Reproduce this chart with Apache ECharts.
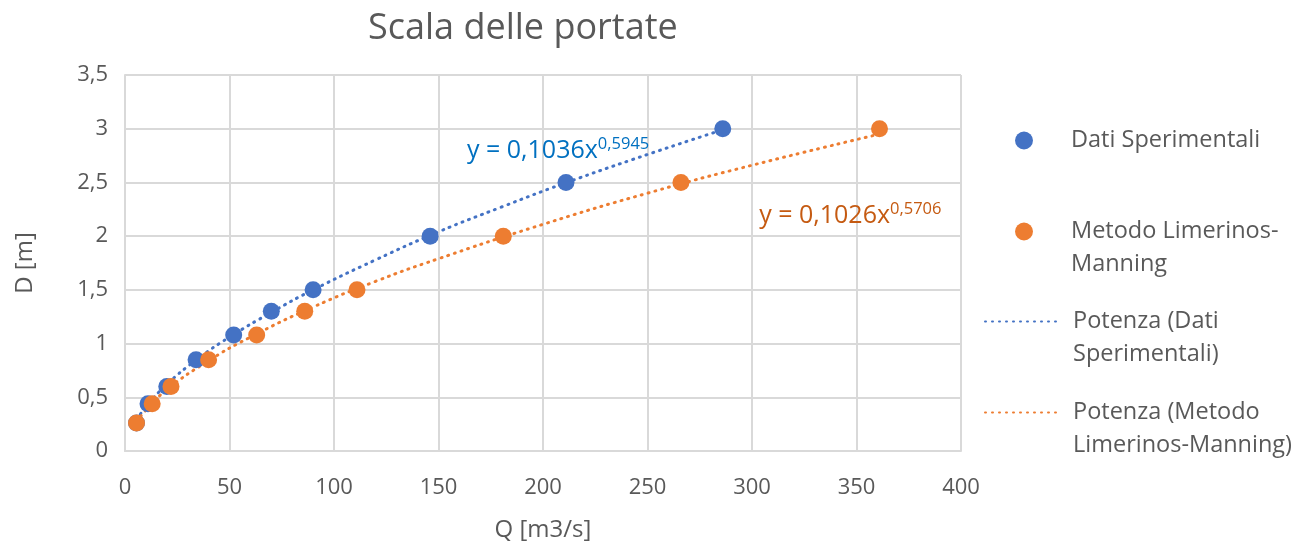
<!DOCTYPE html>
<html>
<head>
<meta charset="utf-8">
<script src="https://cdn.jsdelivr.net/npm/echarts@6/dist/echarts.min.js"></script>
<style>html,body{margin:0;padding:0;background:#fff}#c{width:1305px;height:546px}</style>
</head>
<body>
<div id="c"></div>
<script>
// Data
const xTicks = [0, 50, 100, 150, 200, 250, 300, 350, 400];
const yTicks = ['0', '0,5', '1', '1,5', '2', '2,5', '3', '3,5'];

const datiQ = [5.5, 11, 20, 34, 52, 70, 90, 146, 211, 286];
const datiD = [0.26, 0.44, 0.6, 0.85, 1.08, 1.3, 1.5, 2.0, 2.5, 3.0];

const manningQ = [5.5, 13, 22, 40, 63, 86, 111, 181, 266, 361];
const manningD = [0.26, 0.44, 0.6, 0.85, 1.08, 1.3, 1.5, 2.0, 2.5, 3.0];

// dotted trend curves
const trendDatiQ = [5.5, 10, 20, 35, 50, 70, 90, 120, 150, 180, 210, 250, 286];
const trendDatiD = [0.29, 0.41, 0.62, 0.86, 1.06, 1.29, 1.5, 1.78, 2.04, 2.27, 2.49, 2.76, 2.99];

const trendManQ = [5.5, 10, 20, 40, 60, 90, 120, 150, 200, 250, 300, 361];
const trendManD = [0.27, 0.38, 0.57, 0.84, 1.06, 1.34, 1.58, 1.79, 2.11, 2.40, 2.66, 2.95];

const names = ['Dati Sperimentali', 'Metodo Limerinos-Manning',
  'Potenza (Dati Sperimentali)', 'Potenza (Metodo Limerinos-Manning)'];
const legendLabels = ['Dati Sperimentali', '\nMetodo Limerinos-\nManning',
  '\nPotenza (Dati\nSperimentali)', '\nPotenza (Metodo\nLimerinos-Manning)'];

const eqDati = ['y = 0,1036x', '0,5945'];
const eqMan = ['y = 0,1026x', '0,5706'];

const BLUE = '#4472C4', ORANGE = '#ED7D31';
const FONT = 'Open Sans';
const zip = (a, b) => a.map((v, i) => [v, b[i]]);

function legendAt(idx, left, top, isLine) {
  return {
    data: [names[idx]], orient: 'vertical', left: left, top: top, padding: 0,
    itemWidth: isLine ? 75 : 18, itemHeight: isLine ? 16 : 18, selectedMode: false,
    itemStyle: isLine ? { opacity: 0 } : {},
    formatter: () => legendLabels[idx],
    textStyle: { fontFamily: FONT, fontSize: 23.5, color: '#595959', lineHeight: 33,
      padding: [0, 0, 0, isLine ? 8 : 33] }
  };
}

function eqLabel(eq, color) {
  return {
    show: true, position: 'right', distance: 0,
    formatter: '{a|' + eq[0] + '}{b|' + eq[1] + '}',
    rich: {
      a: { fontFamily: FONT, fontSize: 25, color: color, lineHeight: 30 },
      b: { fontFamily: FONT, fontSize: 16.5, color: color, verticalAlign: 'top', lineHeight: 18 }
    }
  };
}

const chart = echarts.init(document.getElementById('c'), null, { renderer: 'canvas' });
chart.setOption({
  backgroundColor: '#ffffff',
  animation: false,
  title: {
    text: 'Scala delle portate', left: 363, top: 6,
    textStyle: { fontFamily: FONT, fontSize: 36, fontWeight: 'normal', color: '#595959' }
  },
  grid: { left: 125, right: 344, top: 75, bottom: 95, containLabel: false, outerBoundsMode: 'none' },
  legend: [legendAt(0, 1015, 124, false), legendAt(1, 1015, 182, false),
           legendAt(2, 984, 272, true), legendAt(3, 984, 363, true)],
  xAxis: {
    type: 'value', min: 0, max: 400, interval: 50,
    name: 'Q [m3/s]', nameLocation: 'middle', nameGap: 67,
    nameTextStyle: { fontFamily: FONT, fontSize: 24, color: '#595959' },
    axisLine: { show: true, lineStyle: { color: '#d9d9d9', width: 2 } },
    axisTick: { show: false },
    axisLabel: { margin: 26, fontFamily: FONT, fontSize: 22, color: '#595959',
      formatter: v => String(xTicks[xTicks.indexOf(v)]) },
    splitLine: { show: true, lineStyle: { color: '#d9d9d9', width: 2 } }
  },
  yAxis: {
    type: 'value', min: 0, max: 3.5, interval: 0.5,
    name: 'D [m]', nameLocation: 'middle', nameGap: 88,
    nameTextStyle: { fontFamily: FONT, fontSize: 24, color: '#595959' },
    axisLine: { show: true, lineStyle: { color: '#d9d9d9', width: 2 } },
    axisTick: { show: false },
    axisLabel: { margin: 17, fontFamily: FONT, fontSize: 22, color: '#595959',
      formatter: v => yTicks[Math.round(v / 0.5)] },
    splitLine: { show: true, lineStyle: { color: '#d9d9d9', width: 2 } }
  },
  series: [
    {
      name: names[2], type: 'line', data: zip(trendDatiQ, trendDatiD), smooth: true,
      symbol: 'none', z: 3,
      itemStyle: { color: BLUE },
      lineStyle: { color: BLUE, width: 3, type: [1, 6], cap: 'round' },
      markPoint: {
        symbol: 'circle', symbolSize: 1, itemStyle: { color: 'rgba(0,0,0,0)' },
        data: [{ coord: [163.4, 2.79], label: eqLabel(eqDati, '#0070C0') }]
      }
    },
    {
      name: names[3], type: 'line', data: zip(trendManQ, trendManD), smooth: true,
      symbol: 'none', z: 3,
      itemStyle: { color: ORANGE },
      lineStyle: { color: ORANGE, width: 3, type: [1, 6], cap: 'round' },
      markPoint: {
        symbol: 'circle', symbolSize: 1, itemStyle: { color: 'rgba(0,0,0,0)' },
        data: [{ coord: [303.2, 2.187], label: eqLabel(eqMan, '#C55A11') }]
      }
    },
    {
      name: names[0], type: 'scatter', data: zip(datiQ, datiD), symbol: 'circle',
      symbolSize: 17, z: 4, itemStyle: { color: BLUE, opacity: 1 }
    },
    {
      name: names[1], type: 'scatter', data: zip(manningQ, manningD), symbol: 'circle',
      symbolSize: 17, z: 5, itemStyle: { color: ORANGE, opacity: 1 }
    }
  ]
});
</script>
</body>
</html>
